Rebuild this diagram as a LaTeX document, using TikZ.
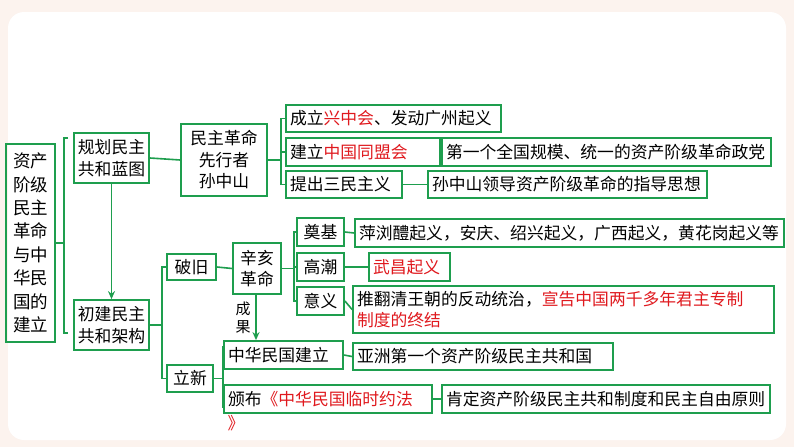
\documentclass[tikz,border=0pt]{standalone}
\usepackage{fontspec}
\setmainfont{Noto Sans CJK SC}
\usetikzlibrary{arrows.meta}
\definecolor{gr}{HTML}{1E9E4E}
\definecolor{rd}{HTML}{E0191E}
\definecolor{peach}{HTML}{FCF3EE}
\newcommand{\rt}[1]{\textcolor{rd}{#1}}
\newcommand{\Bc}[6]{\node[bx,minimum width=#4pt-#2pt,minimum height=#5pt-#3pt,align=center] (#1) at ({(#2+#4)/2},{(#3+#5)/2}) {#6};}
\newcommand{\Bl}[6]{\node[bx,minimum width=#4pt-#2pt,minimum height=#5pt-#3pt,text width=#4pt-#2pt-8pt,align=left] (#1) at ({(#2+#4)/2},{(#3+#5)/2}) {#6};}
\begin{document}
\begin{tikzpicture}[x=1pt,y=-1pt,
  bx/.style={draw=gr,line width=1.8pt,inner sep=4pt,font=\fontsize{16.8}{21.5}\selectfont},
  ln/.style={draw=gr,line width=1.6pt},
  ar/.style={ln,-{Stealth[length=8pt,width=7pt]}}]
\useasboundingbox (0,0) rectangle (794,447);
\fill[peach] (0,0) rectangle (794,447);
\fill[white,rounded corners=16pt] (8,12) rectangle (786,440);
\node[bx,minimum width=49pt,minimum height=198pt,align=center,font=\fontsize{17.5}{23.4}\selectfont,inner sep=2pt] (root) at (30.5,243) {资产\\阶级\\民主\\革命\\与中\\华民\\国的\\建立};
\Bc{gh}{74}{133}{149}{183}{规划民主\\共和蓝图}
\Bc{cj}{74}{300}{149}{350}{初建民主\\共和架构}
\Bc{sz}{181}{124}{267}{196}{民主革命\\先行者\\孙中山}
\Bl{a1}{286}{105}{501}{132}{成立\rt{兴中会}、发动广州起义}
\Bl{a2}{286}{138}{440}{166}{建立\rt{中国同盟会}}
\Bl{a3}{286}{171}{402}{198}{提出三民主义}
\Bl{b2}{442}{138}{771}{166}{第一个全国规模、统一的资产阶级革命政党}
\Bl{b3}{428}{171}{707}{198}{孙中山领导资产阶级革命的指导思想}
\Bc{pj}{167}{254}{216}{280}{破旧}
\Bc{lx}{167}{365}{213}{392}{立新}
\Bc{xh}{233}{243}{281}{294}{辛亥\\革命}
\Bc{dj}{297}{218}{344}{246}{奠基}
\Bc{gc}{297}{253}{344}{281}{高潮}
\Bc{yy}{297}{287}{344}{315}{意义}
\Bl{c1}{355}{219}{784}{247}{萍浏醴起义，安庆、绍兴起义，广西起义，黄花岗起义等}
\Bl{c2}{369}{253}{450}{281}{\rt{武昌起义}}
\Bl{c3}{353}{286}{774}{333}{推翻清王朝的反动统治，\rt{宣告中国两千多年君主专制}\\\rt{制度的终结}}
\Bl{d1}{224}{341}{343}{369}{中华民国建立}
\Bl{e1}{353}{343}{613}{370}{亚洲第一个资产阶级民主共和国}
\Bl{d2}{224}{385}{432}{413}{颁布\rt{《中华民国临时约法}}
\Bl{e2}{442}{385}{770}{413}{肯定资产阶级民主共和制度和民主自由原则}
\node[font=\fontsize{16.8}{20}\selectfont,text=rd,inner sep=0pt] (rq) at (236,423) {》};
% root bracket
\draw[ln] (root.east) -- (64,243);
\draw[ln] (68,138) -- (64,138) -- (64,333) -- (68,333);
% connectors
\draw[ln] (gh.east) -- (sz.west);
\draw[ar] (gh.south) -- (cj.north);
\draw[ln] (sz.east) -- ++(13,0) coordinate (k1);
\draw[ln] (a1.west) -| (k1) |- (a3.west);
\draw[ln] (k1) |- (a2.west);
\draw[ln] (a2.east) -- (b2.west);
\draw[ln] (a3.east) -- (b3.west);
\draw[ln] (cj.east) -- ++(12,0) coordinate (k2);
\draw[ln] (pj.west) -| (k2) |- (lx.west);
\draw[ln] (pj.east) -- (xh.west);
\draw[ln] (xh.east) -- ++(12,0) coordinate (k3);
\draw[ln] (dj.west) -| (k3) |- (yy.west);
\draw[ln] (k3) |- (gc.west);
\draw[ln] (dj.east) -- (c1.west);
\draw[ln] (gc.east) -- (c2.west);
\draw[ln] (yy.east) -- (c3.west);
\draw[ar] (xh.south -| 256,0) -- (d1.north -| 256,0);
\node[font=\fontsize{15}{18}\selectfont,align=center,inner sep=0pt] (cg) at (243,318) {成\\果};
\draw[ln] (lx.east) -- ++(9,0) coordinate (k4);
\draw[ln] (d1.west) ++(0,-8) -| (k4) |- ([yshift=-8pt]d2.west);
\draw[ln] (d1.east) -- (e1.west);
\draw[ln] (d2.east) -- (e2.west);
\end{tikzpicture}
\end{document}
